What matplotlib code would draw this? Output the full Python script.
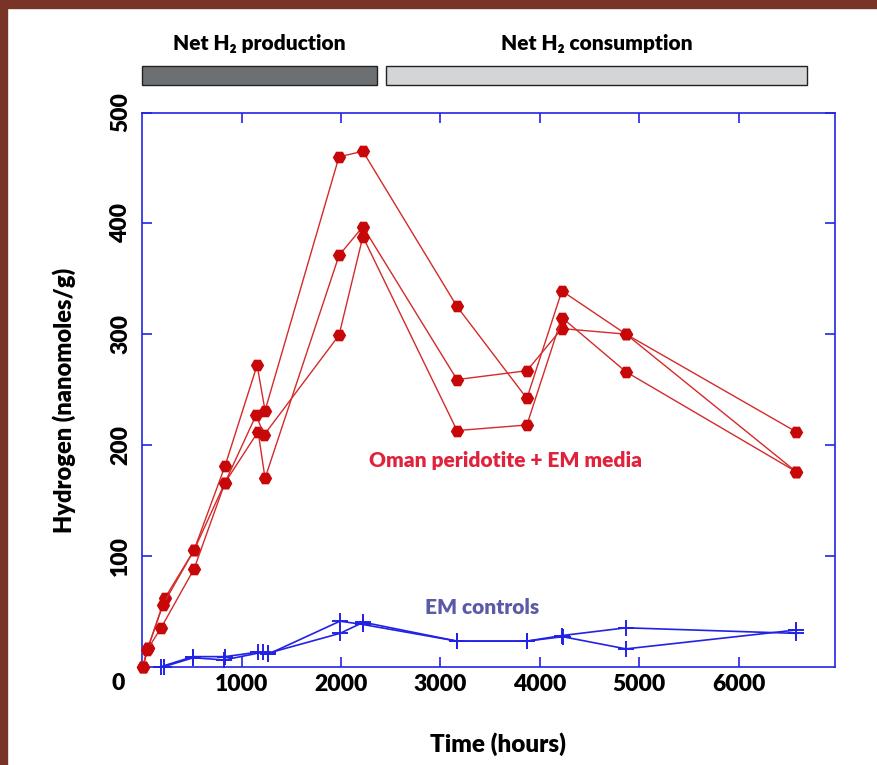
""" H2 production / consumption by Oman peridotite vs EM controls """

import numpy as np
import matplotlib
matplotlib.use("Agg")
import matplotlib.pyplot as plt
from matplotlib.patches import Rectangle

plt.rcParams.update({'font.family': ['Lato', 'DejaVu Sans'],
                     'font.weight': 'heavy',
                     'axes.labelweight': 'heavy'})

#######################################################
######################## data #########################
#######################################################
# peridotite + EM media, three replicates (hours, nmol/g)
rock_t = [
    [8, 58, 230, 521, 833, 1156, 1236, 1980, 2220, 3167, 3870, 4222, 4867, 6577],
    [8, 58, 210, 521, 833, 1166, 1236, 1980, 2220, 3167, 3870, 4222, 4867, 6577],
    [8, 50, 190, 521, 833, 1146, 1226, 1980, 2220, 3167, 3870, 4222, 4867, 6577]]
rock_h2 = [
    [0, 17, 62, 105, 181, 272, 231, 460, 465, 325, 242, 339, 300, 212],
    [0, 17, 56, 105, 166, 212, 170, 371, 397, 259, 267, 305, 300, 176],
    [0, 15, 35, 88, 166, 227, 209, 299, 388, 213, 218, 315, 266, 176]]

# EM controls, two replicates
ctrl_t = [
    [190, 514, 833, 1162, 1262, 1990, 2220, 3167, 3870, 4222, 4867, 6577],
    [220, 514, 825, 1212, 1262, 1990, 2225, 3167, 3870, 4230, 4867, 6577]]
ctrl_h2 = [
    [0, 9, 9, 13, 11, 41, 38, 23, 23, 28, 35, 30],
    [0, 8, 6, 13, 12, 30, 40, 23, 23, 27, 16, 33]]

phases = ["Net H\u2082 production", "Net H\u2082 consumption"]
phase_start = [0, 2453]
phase_end = [2362, 6686]
phase_colors = ["#6d7072", "#d4d5d7"]

xticks = [1000, 2000, 3000, 4000, 5000, 6000]
yticks = [100, 200, 300, 400, 500]
#######################################################

blue = "#2222e6"
W, H = 877, 765

fig = plt.figure(figsize=(W/100, H/100), dpi=100)
fig.patch.set_facecolor("white")

# brown frame on top and left
fig.patches.append(Rectangle((0, 1 - 8/H), 1, 8/H, transform=fig.transFigure,
                             color="#7a3327", zorder=0))
fig.patches.append(Rectangle((0, 0), 7/W, 1, transform=fig.transFigure,
                             color="#7a3327", zorder=0))

x0, x1 = 142.2, 835
ax = fig.add_axes([x0/W, 1 - 666.6/H, (x1 - x0)/W, (666.6 - 112.5)/H])
ax.set_xlim(0, 6970)
ax.set_ylim(0, 500)

for t, h in zip(ctrl_t, ctrl_h2):
    ax.plot(t, h, color=blue, lw=1.2, marker="+", ms=11, mew=1.4,
            clip_on=False, zorder=2)
for t, h in zip(rock_t, rock_h2):
    ax.plot(t, h, color="#d42a2a", lw=1.0, marker="H", ms=8.5,
            mfc="#c80808", mec="#c80808", clip_on=False, zorder=3)

ax.text(3650, 186, "Oman peridotite + EM media", color="#e0223c",
        fontsize=15, ha="center", va="center")
ax.text(3420, 53, "EM controls", color="#5a5aa6",
        fontsize=15, ha="center", va="center")

for s in ax.spines.values():
    s.set_color(blue)
    s.set_linewidth(1.2)
ax.set_xticks(xticks)
ax.set_yticks(yticks)
ax.tick_params(direction="in", length=7, width=1.2, color=blue,
               top=True, right=True, labelsize=16.5)
ax.tick_params(axis="x", pad=5)
ax.tick_params(axis="y", pad=8)
plt.setp(ax.get_yticklabels(), rotation=90, va="center")
fig.text(118/W, 1 - 684/H, "0", fontsize=16.5, ha="center", va="center")

ax.set_xlabel("Time (hours)", fontsize=17.5)
ax.set_ylabel("Hydrogen (nanomoles/g)", fontsize=17)
ax.xaxis.set_label_coords(0.514, -0.118)
ax.yaxis.set_label_coords(-0.095, 0.48)

# phase bars above the plot
bx = fig.add_axes([x0/W, 1 - 85/H, (x1 - x0)/W, 19/H])
bx.set_xlim(ax.get_xlim())
bx.set_ylim(0, 1)
bx.axis("off")
for name, a, b, c in zip(phases, phase_start, phase_end, phase_colors):
    bx.add_patch(Rectangle((a, 0), b - a, 1, facecolor=c, edgecolor="#222222",
                           lw=1.0, clip_on=False))
    bx.text((a + b)/2, 2.2, name, fontsize=15, ha="center", va="center")

fig.savefig("out.png", dpi=100)
